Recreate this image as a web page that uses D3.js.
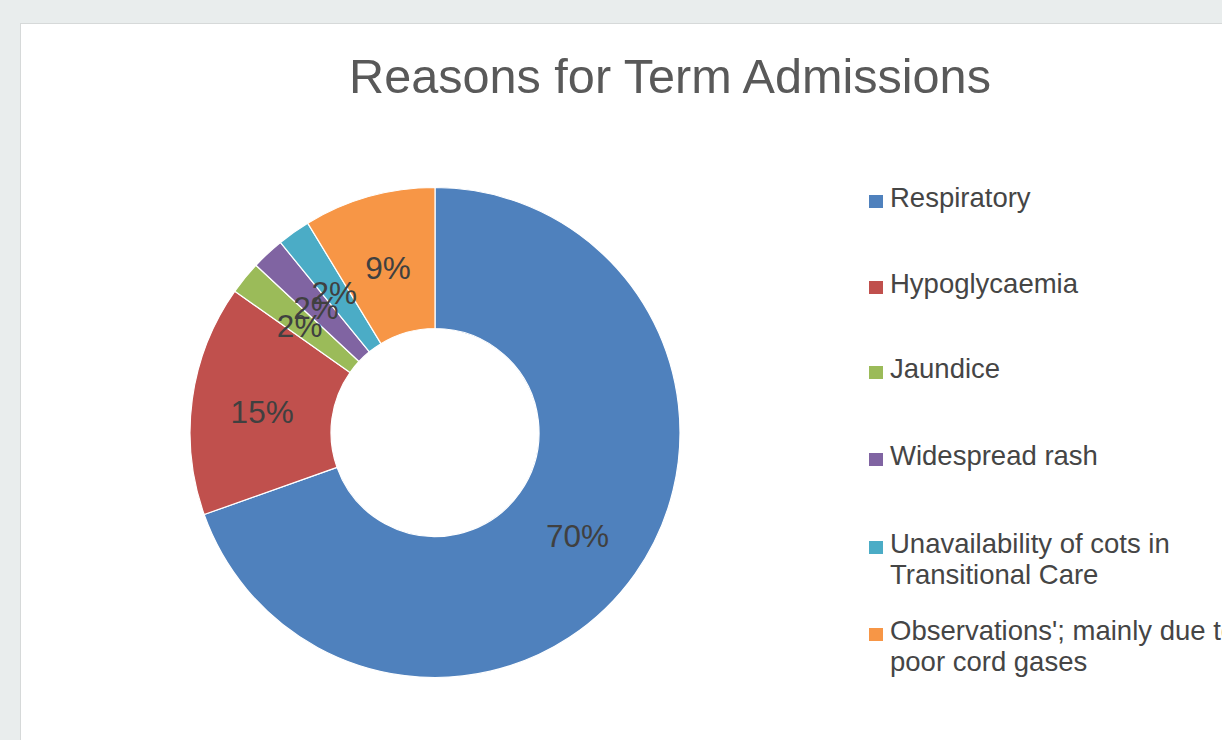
<!DOCTYPE html>
<html>
<head>
<meta charset="utf-8">
<script src="https://cdn.jsdelivr.net/npm/d3@7"></script>
<style>
html,body{margin:0;padding:0;background:#e9eded;overflow:hidden;}
svg{display:block;}
</style>
</head>
<body>
<svg id="chart" width="1222" height="740"></svg>
<script>
const categories = ["Respiratory","Hypoglycaemia","Jaundice","Widespread rash","Unavailability of cots in Transitional Care","Observations'; mainly due to poor cord gases"];
const legendLines = [["Respiratory"],["Hypoglycaemia"],["Jaundice"],["Widespread rash"],["Unavailability of cots in","Transitional Care"],["Observations'; mainly due to","poor cord gases"]];
const values = [32, 7, 1, 1, 1, 4];
const colors = ["#4f81bd","#c0504d","#9bbb59","#8064a2","#4bacc6","#f79646"];
const title = "Reasons for Term Admissions";

const svg = d3.select("#chart");
const font = "'Liberation Sans', Arial, Helvetica, sans-serif";

svg.append("rect").attr("x",20.5).attr("y",23.5).attr("width",1260).attr("height",760)
  .attr("fill","#ffffff").attr("stroke","#d6d9d9").attr("stroke-width",1);

svg.append("text").attr("x",670).attr("y",93).attr("text-anchor","middle")
  .attr("font-family",font).attr("font-size",48.6).attr("fill","#595959").text(title);

const cx = 435, cy = 432.5, rOuter = 245, rInner = 104;
const total = d3.sum(values);
const pie = d3.pie().sort(null).value(d=>d)(values);
const arc = d3.arc().innerRadius(rInner).outerRadius(rOuter);
const labelArc = d3.arc().innerRadius((rInner+rOuter)/2).outerRadius((rInner+rOuter)/2);

const g = svg.append("g").attr("transform",`translate(${cx},${cy})`);
g.selectAll("path").data(pie).join("path")
  .attr("d",arc).attr("fill",(d,i)=>colors[i])
  .attr("stroke","#ffffff").attr("stroke-width",1.2).attr("stroke-linejoin","round");

g.selectAll("text.lbl").data(pie).join("text").attr("class","lbl")
  .attr("transform",d=>`translate(${labelArc.centroid(d)})`)
  .attr("text-anchor","middle").attr("dy","0.45em")
  .attr("font-family",font).attr("font-size",31.5).attr("fill","#404040")
  .text(d=>Math.round(d.data/total*100)+"%");

const leg = svg.append("g");
const legY = [207, 293, 378, 465, 553, 640];
legendLines.forEach((lines,i)=>{
  leg.append("rect").attr("x",869).attr("y",legY[i]-12).attr("width",14).attr("height",13).attr("fill",colors[i]);
  const t = leg.append("text").attr("x",890).attr("y",legY[i])
    .attr("font-family",font).attr("font-size",27.5).attr("fill","#454545");
  lines.forEach((ln,j)=>{
    t.append("tspan").attr("x",890).attr("dy", j===0?0:31).text(ln);
  });
});
</script>
</body>
</html>
